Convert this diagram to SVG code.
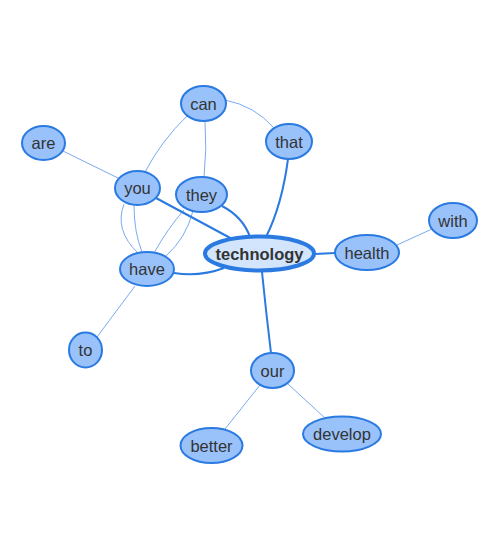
<svg xmlns="http://www.w3.org/2000/svg" width="500" height="550" viewBox="0 0 500 550">
<style>
.n ellipse{fill:#99c2fa;stroke:#2a7ae2;stroke-width:2}
.n text{font-family:"Liberation Sans",Arial,sans-serif;font-size:16.5px;fill:#333;text-anchor:middle;dominant-baseline:central}
#n-technology ellipse{fill:#d2e5fc;stroke-width:4}
#n-technology text{font-weight:bold;font-size:16.5px}
.e path{fill:none}
.t{stroke:#7aaaf0;stroke-width:1}
.m{stroke:#2a7ae2;stroke-width:2}
</style>
<rect width="500" height="550" fill="#fff"/>
<g id="edges" class="e">
<path class="t" d="M63,151 L118,178"/>
<path class="t" d="M187,116 Q162,140 145,172"/>
<path class="t" d="M205,121 Q207,150 204,177"/>
<path class="t" d="M225,100 Q255,106 274,128"/>
<path class="t" d="M124,204 Q114,230 138,253"/>
<path class="t" d="M134,205 Q134,232 142,252"/>
<path class="t" d="M184,210 Q168,228 154,253"/>
<path class="t" d="M193,211 Q186,238 166,256"/>
<path class="m" d="M156,198 L234,240"/>
<path class="m" d="M222,206 Q243,217 250,237"/>
<path class="m" d="M174,273 Q200,277 224,268"/>
<path class="m" d="M288,159 Q282,205 266,237"/>
<path class="m" d="M315,254 L335,253"/>
<path class="t" d="M397,245 L432,229"/>
<path class="m" d="M262,272 Q266,312 271,353"/>
<path class="t" d="M135,286 L97,337"/>
<path class="t" d="M260,385 L225,429"/>
<path class="t" d="M288,384 L325,418"/>
</g>
<g id="n-can" class="n"><ellipse cx="203.5" cy="103.5" rx="22.5" ry="17.5"/><text x="203.5" y="103.5">can</text></g>
<g id="n-are" class="n"><ellipse cx="43.5" cy="143" rx="21.5" ry="17"/><text x="43.5" y="143">are</text></g>
<g id="n-that" class="n"><ellipse cx="289" cy="141.5" rx="23" ry="17.5"/><text x="289" y="141.5">that</text></g>
<g id="n-you" class="n"><ellipse cx="137.5" cy="188" rx="22.5" ry="17"/><text x="137.5" y="188">you</text></g>
<g id="n-they" class="n"><ellipse cx="201.5" cy="194.5" rx="25.5" ry="17.5"/><text x="201.5" y="194.5">they</text></g>
<g id="n-with" class="n"><ellipse cx="453" cy="220.5" rx="24" ry="17.5"/><text x="453" y="220.5">with</text></g>
<g id="n-health" class="n"><ellipse cx="367" cy="252.5" rx="32" ry="17.5"/><text x="367" y="252.5">health</text></g>
<g id="n-have" class="n"><ellipse cx="147" cy="269" rx="27" ry="17"/><text x="147" y="269">have</text></g>
<g id="n-technology" class="n"><ellipse cx="259.5" cy="253.5" rx="54.5" ry="17"/><text x="259.5" y="253.5">technology</text></g>
<g id="n-to" class="n"><ellipse cx="85.5" cy="350" rx="16.5" ry="17.5"/><text x="85.5" y="350">to</text></g>
<g id="n-our" class="n"><ellipse cx="272.5" cy="370.5" rx="21.5" ry="17.5"/><text x="272.5" y="370.5">our</text></g>
<g id="n-develop" class="n"><ellipse cx="342" cy="434" rx="39" ry="17.5"/><text x="342" y="434">develop</text></g>
<g id="n-better" class="n"><ellipse cx="211.5" cy="445.5" rx="31" ry="17.5"/><text x="211.5" y="445.5">better</text></g>
</svg>
